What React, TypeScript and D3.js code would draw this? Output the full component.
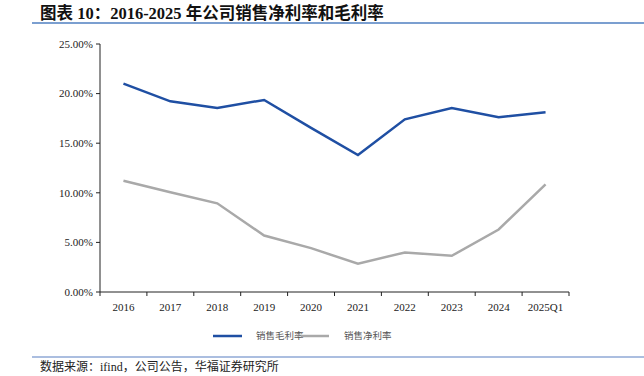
import React from "react";
import * as d3 from "d3";

const categories = ["2016", "2017", "2018", "2019", "2020", "2021", "2022", "2023", "2024", "2025Q1"];
const grossMargin = [21.0, 19.22, 18.55, 19.36, 16.55, 13.8, 17.41, 18.55, 17.62, 18.12];
const netMargin = [11.22, 10.05, 8.94, 5.69, 4.42, 2.85, 3.99, 3.65, 6.3, 10.85];
const yTicks = [0, 5, 10, 15, 20, 25];
const seriesNames = ["销售毛利率", "销售净利率"];
const title = "图表 10：2016-2025 年公司销售净利率和毛利率";
const source = "数据来源：ifind，公司公告，华福证券研究所";

const W = 644;
const H = 376;
const left = 100;
const right = 569;
const top = 44;
const bottom = 292;
const serif = "'Liberation Serif', 'Times New Roman', serif";
const cjk = "'Noto Sans CJK SC', sans-serif";

export default function App() {
  const x = d3.scaleBand<string>().domain(categories).range([left, right]);
  const y = d3.scaleLinear().domain([0, 25]).range([bottom, top]);
  const line = d3
    .line<number>()
    .x((_, i) => (x(categories[i]) as number) + x.bandwidth() / 2)
    .y((d) => y(d));
  const colors = ["#1f4fa3", "#a9a9a9"];
  const tickEdges = categories.map((c) => x(c) as number).concat([right]);

  return (
    <svg width={W} height={H} style={{ position: "absolute", left: 0, top: 0, background: "#fff" }}>
      <text x={40} y={19} fontFamily={`${serif}, ${cjk}`} fontWeight="bold" fontSize={16.5} fill="#111">
        {title}
      </text>
      <line x1={32} x2={W} y1={23} y2={23} stroke="#4f7fc0" strokeWidth={1.5} />

      {/* y axis */}
      <line x1={left} x2={left} y1={top} y2={bottom} stroke="#222" strokeWidth={1} />
      {yTicks.map((t) => (
        <g key={t}>
          <line x1={left - 4} x2={left} y1={y(t)} y2={y(t)} stroke="#222" />
          <text x={left - 7} y={y(t)} dy="0.35em" textAnchor="end" fontFamily={serif} fontSize={11} fill="#222">
            {t.toFixed(2)}%
          </text>
        </g>
      ))}

      {/* x axis */}
      <line x1={left} x2={right} y1={bottom} y2={bottom} stroke="#222" strokeWidth={1} />
      {tickEdges.map((e, i) => (
        <line key={i} x1={e} x2={e} y1={bottom} y2={bottom + 4} stroke="#222" />
      ))}
      {categories.map((c) => (
        <text
          key={c}
          x={(x(c) as number) + x.bandwidth() / 2}
          y={311}
          textAnchor="middle"
          fontFamily={serif}
          fontSize={11}
          fill="#222"
        >
          {c}
        </text>
      ))}

      <path d={line(netMargin) || ""} fill="none" stroke={colors[1]} strokeWidth={2.5} />
      <path d={line(grossMargin) || ""} fill="none" stroke={colors[0]} strokeWidth={2.5} />

      {/* legend */}
      <line x1={213} x2={242} y1={336} y2={336} stroke={colors[0]} strokeWidth={2.5} />
      <text x={256} y={336} dy="0.35em" fontFamily={cjk} fontSize={9.5} fill="#555">
        {seriesNames[0]}
      </text>
      <line x1={301} x2={329} y1={336} y2={336} stroke={colors[1]} strokeWidth={2.5} />
      <text x={344} y={336} dy="0.35em" fontFamily={cjk} fontSize={9.5} fill="#555">
        {seriesNames[1]}
      </text>

      <line x1={32} x2={W} y1={357} y2={357} stroke="#8fa9d6" strokeWidth={1.5} />
      <text x={40} y={371} fontFamily={`${serif}, ${cjk}`} fontSize={12} fill="#222">
        {source}
      </text>
    </svg>
  );
}
